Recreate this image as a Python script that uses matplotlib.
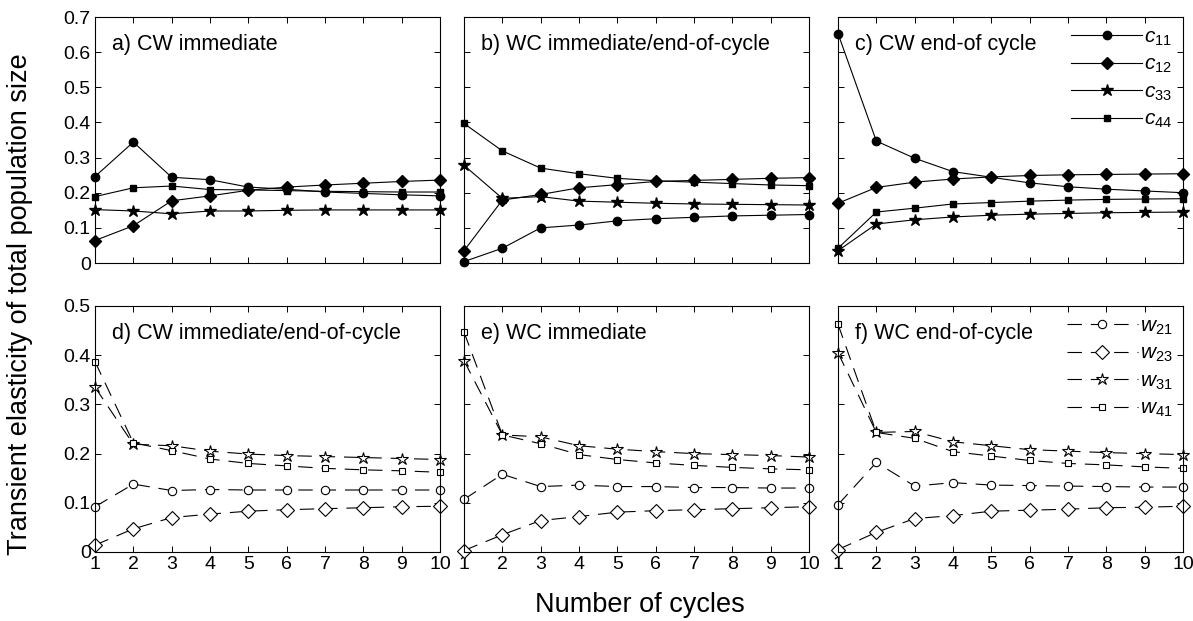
import numpy as np
import matplotlib.pyplot as plt

# cycle numbers shared by every panel
cycles = np.arange(1, 11)

# top row: c-elasticities for panels a), b), c)
c11_a = [0.246, 0.344, 0.244, 0.237, 0.216, 0.210, 0.202, 0.198, 0.194, 0.191]
c12_a = [0.064, 0.106, 0.177, 0.191, 0.207, 0.216, 0.222, 0.227, 0.232, 0.236]
c33_a = [0.152, 0.148, 0.140, 0.148, 0.148, 0.150, 0.151, 0.151, 0.151, 0.151]
c44_a = [0.189, 0.214, 0.219, 0.209, 0.208, 0.206, 0.204, 0.203, 0.202, 0.202]

c11_b = [0.004, 0.042, 0.100, 0.108, 0.120, 0.126, 0.130, 0.134, 0.136, 0.138]
c12_b = [0.035, 0.179, 0.195, 0.214, 0.223, 0.232, 0.235, 0.238, 0.241, 0.243]
c33_b = [0.278, 0.184, 0.189, 0.176, 0.173, 0.170, 0.168, 0.167, 0.166, 0.165]
c44_b = [0.397, 0.319, 0.270, 0.254, 0.241, 0.234, 0.230, 0.226, 0.222, 0.220]

c11_c = [0.653, 0.347, 0.298, 0.260, 0.244, 0.228, 0.217, 0.210, 0.205, 0.200]
c12_c = [0.170, 0.215, 0.230, 0.239, 0.245, 0.249, 0.251, 0.252, 0.253, 0.254]
c33_c = [0.035, 0.111, 0.123, 0.131, 0.136, 0.139, 0.141, 0.143, 0.144, 0.145]
c44_c = [0.042, 0.145, 0.156, 0.168, 0.172, 0.176, 0.179, 0.181, 0.182, 0.183]

# bottom row: w-elasticities for panels d), e), f)
w21_d = [0.092, 0.138, 0.125, 0.127, 0.126, 0.126, 0.126, 0.126, 0.126, 0.126]
w23_d = [0.014, 0.047, 0.070, 0.077, 0.083, 0.086, 0.088, 0.090, 0.092, 0.093]
w31_d = [0.335, 0.219, 0.216, 0.205, 0.199, 0.196, 0.194, 0.192, 0.190, 0.188]
w41_d = [0.387, 0.222, 0.206, 0.189, 0.180, 0.175, 0.170, 0.167, 0.165, 0.162]

w21_e = [0.107, 0.158, 0.133, 0.136, 0.133, 0.133, 0.131, 0.131, 0.130, 0.130]
w23_e = [0.003, 0.035, 0.064, 0.072, 0.081, 0.084, 0.086, 0.088, 0.090, 0.092]
w31_e = [0.389, 0.238, 0.234, 0.216, 0.209, 0.204, 0.200, 0.198, 0.196, 0.193]
w41_e = [0.447, 0.238, 0.220, 0.198, 0.188, 0.181, 0.176, 0.172, 0.169, 0.167]

w21_f = [0.096, 0.182, 0.134, 0.141, 0.136, 0.135, 0.134, 0.133, 0.132, 0.132]
w23_f = [0.005, 0.040, 0.068, 0.074, 0.083, 0.085, 0.087, 0.090, 0.091, 0.093]
w31_f = [0.405, 0.243, 0.245, 0.224, 0.216, 0.208, 0.205, 0.202, 0.200, 0.198]
w41_f = [0.463, 0.243, 0.231, 0.204, 0.195, 0.186, 0.180, 0.177, 0.173, 0.170]

top_titles = ['a) CW immediate', 'b) WC immediate/end-of-cycle', 'c) CW end-of cycle']
bottom_titles = ['d) CW immediate/end-of-cycle', 'e) WC immediate', 'f) WC end-of-cycle']
c_labels = [r'$c_{11}$', r'$c_{12}$', r'$c_{33}$', r'$c_{44}$']
w_labels = [r'$w_{21}$', r'$w_{23}$', r'$w_{31}$', r'$w_{41}$']

top_data = [[c11_a, c12_a, c33_a, c44_a],
            [c11_b, c12_b, c33_b, c44_b],
            [c11_c, c12_c, c33_c, c44_c]]
bottom_data = [[w21_d, w23_d, w31_d, w41_d],
               [w21_e, w23_e, w31_e, w41_e],
               [w21_f, w23_f, w31_f, w41_f]]

markers = ['o', 'D', '*', 's']
top_sizes = [6, 6.5, 9, 4.5]
bottom_sizes = [6, 7, 9, 4.5]

plt.rcParams['font.family'] = ['Liberation Sans', 'DejaVu Sans']
plt.rcParams['mathtext.fontset'] = 'custom'
plt.rcParams['mathtext.rm'] = 'Liberation Sans'
plt.rcParams['mathtext.it'] = 'Liberation Sans:italic'

fig = plt.figure(figsize=(11.93, 6.21), dpi=100)

lefts = [95 / 1193, 464 / 1193, 838 / 1193]
width = 345 / 1193
height = 246 / 621
rows = [1 - 263 / 621, 1 - 552 / 621]


def style_axis(ax, ymax, show_x, show_y):
    ax.set_xlim(1, 10)
    ax.set_ylim(0, ymax)
    ax.set_xticks(cycles)
    ax.set_yticks(np.arange(0, ymax + 0.01, 0.1))
    ax.tick_params(direction='in', top=True, right=True, length=4,
                   width=0.7, labelsize=14, pad=3)
    if show_x:
        ax.set_xticklabels([str(c) for c in cycles])
    else:
        ax.set_xticklabels([])
    if show_y:
        ax.set_yticklabels(['0'] + ['%.1f' % v for v in np.arange(0.1, ymax + 0.01, 0.1)])
    else:
        ax.set_yticklabels([])
    for s in ax.spines.values():
        s.set_linewidth(0.8)


for i in range(3):
    ax = fig.add_axes([lefts[i], rows[0], width, height])
    for j in range(4):
        ax.plot(cycles, top_data[i][j], color='black', lw=0.8,
                marker=markers[j], ms=top_sizes[j], mfc='black', mec='black',
                clip_on=False, label=c_labels[j])
    style_axis(ax, 0.7, False, i == 0)
    ax.text(0.05, 0.93, top_titles[i], transform=ax.transAxes,
            fontsize=15.5, va='top', ha='left')
    if i == 2:
        ax.legend(loc='upper right', frameon=False, fontsize=15,
                  handlelength=3.4, handletextpad=0.1, labelspacing=0.35,
                  borderaxespad=0.1)

for i in range(3):
    ax = fig.add_axes([lefts[i], rows[1], width, height])
    for j in range(4):
        ax.plot(cycles, bottom_data[i][j], color='black', lw=0.8,
                ls=(0, (13, 8)), marker=markers[j], ms=bottom_sizes[j],
                mfc='white', mec='black', mew=0.8, clip_on=False,
                label=w_labels[j])
    style_axis(ax, 0.5, True, i == 0)
    ax.text(0.05, 0.93, bottom_titles[i], transform=ax.transAxes,
            fontsize=15.5, va='top', ha='left')
    if i == 2:
        ax.legend(loc='upper right', frameon=False, fontsize=15,
                  handlelength=3.4, handletextpad=0.1, labelspacing=0.35,
                  borderaxespad=0.1)

fig.text(20 / 1193, 1 - 304 / 621, 'Transient elasticity of total population size',
         rotation=90, va='center', ha='center', fontsize=19.5)
fig.text(640 / 1193, 1 - 605 / 621, 'Number of cycles',
         va='center', ha='center', fontsize=19.5)

fig.savefig('out.png', dpi=100)
